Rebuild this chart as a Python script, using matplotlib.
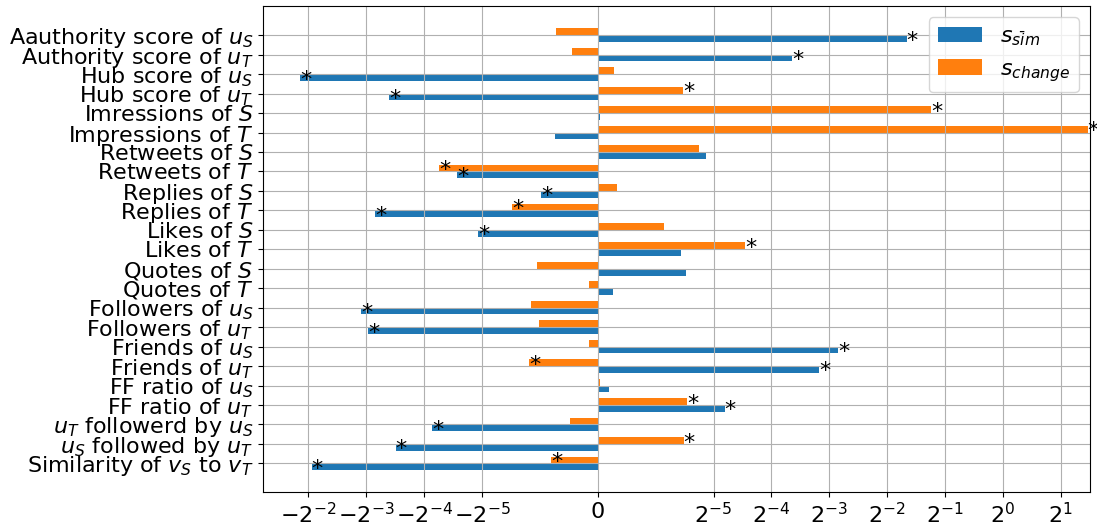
import matplotlib
matplotlib.use("Agg")
import matplotlib.pyplot as plt
import numpy as np

categories = [
    r"Aauthority score of $u_S$",
    r"Authority score of $u_T$",
    r"Hub score of $u_S$",
    r"Hub score of $u_T$",
    r"Imressions of $S$",
    r"Impressions of $T$",
    r"Retweets of $S$",
    r"Retweets of $T$",
    r"Replies of $S$",
    r"Replies of $T$",
    r"Likes of $S$",
    r"Likes of $T$",
    r"Quotes of $S$",
    r"Quotes of $T$",
    r"Followers of $u_S$",
    r"Followers of $u_T$",
    r"Friends of $u_S$",
    r"Friends of $u_T$",
    r"FF ratio of $u_S$",
    r"FF ratio of $u_T$",
    r"$u_T$ followerd by $u_S$",
    r"$u_S$ followed by $u_T$",
    r"Similarity of $v_S$ to $v_T$",
]

s_sim = [0.316, 0.080, -0.275, -0.095, 0.0006, -0.0115, 0.0292, -0.042,
         -0.0153, -0.112, -0.0327, 0.0225, 0.0238, 0.0041, -0.133, -0.1216,
         0.1395, 0.111, 0.003, 0.0357, -0.0565, -0.0878, -0.240]
s_change = [-0.01125, -0.00694, 0.0044, 0.023, 0.423, 2.757, 0.0273, -0.052,
            0.0052, -0.0231, 0.0179, 0.0456, -0.0164, -0.00235, -0.018, -0.0158,
            -0.00227, -0.0185, 0.00073, 0.0241, -0.0074, 0.0232, -0.0125]

sim_sig = [1, 1, 1, 1, 0, 0, 0, 1, 1, 1, 1, 0, 0, 0, 1, 1, 1, 1, 0, 1, 1, 1, 1]
change_sig = [0, 0, 0, 1, 1, 1, 0, 1, 0, 1, 0, 1, 0, 0, 0, 0, 0, 1, 0, 1, 0, 1, 1]

xtick_exponents = [-2, -3, -4, -5, None, -5, -4, -3, -2, -1, 0, 1]
xtick_signs = [-1, -1, -1, -1, 0, 1, 1, 1, 1, 1, 1, 1]
x_limits = (-0.4283, 2.834)

fig = plt.figure(figsize=(10.97, 5.24), dpi=100)
ax = fig.add_axes([0.2400, 0.0605, 0.9936 - 0.2400, 0.988 - 0.0605])

y = np.arange(len(categories))
h = 0.35
ax.barh(y + h / 2, s_sim, height=h, color="#1f77b4", label=r"$s_{s\bar{i}m}$")
ax.barh(y - h / 2, s_change, height=h, color="#ff7f0e", label=r"$s_{change}$")

for i in range(len(categories)):
    if sim_sig[i]:
        ax.text(s_sim[i], y[i] + h / 2, "*", fontsize=16, ha="left", va="center_baseline",
                clip_on=False)
    if change_sig[i]:
        ax.text(s_change[i], y[i] - h / 2, "*", fontsize=16, ha="left", va="center_baseline",
                clip_on=False)

ax.set_xscale("symlog", base=2, linthresh=2 ** -5, linscale=1)
ticks = [s * (2.0 ** e) if e is not None else 0.0 for s, e in zip(xtick_signs, xtick_exponents)]
ax.set_xticks(ticks)
ax.set_xlim(*x_limits)
ax.minorticks_off()

ax.set_yticks(y)
ax.set_yticklabels(categories, fontsize=16)
ax.tick_params(axis="x", labelsize=16)
ax.invert_yaxis()
ax.grid(True)
ax.legend(loc="upper right", fontsize=16)

fig.savefig("out.png", dpi=100)
